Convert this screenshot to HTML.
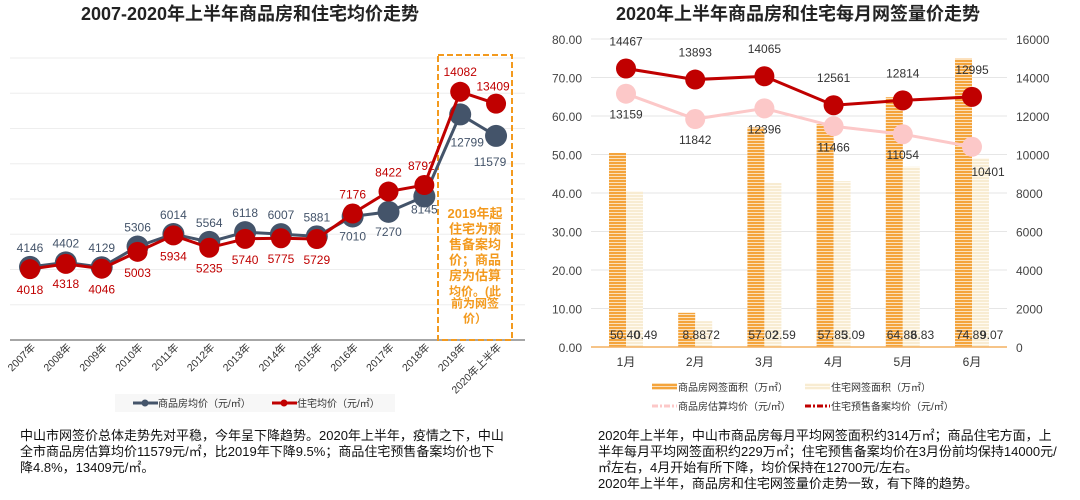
<!DOCTYPE html>
<html><head><meta charset="utf-8">
<style>
body{margin:0;background:#fff;font-family:"Liberation Sans","Noto Sans CJK SC",sans-serif;}
#wrap{position:relative;width:1080px;height:500px;overflow:hidden;background:#fff;}
.txt{position:absolute;font-size:13px;line-height:16px;color:#111;letter-spacing:0px;}
svg text{font-family:"Liberation Sans","Noto Sans CJK SC",sans-serif;}
</style></head>
<body><div id="wrap">
<svg id="svg" width="1080" height="500" style="position:absolute;left:0;top:0">
<defs>
<pattern id="stripeO" width="4" height="3" patternUnits="userSpaceOnUse"><rect width="4" height="3" fill="#fbe1bd"/><rect width="4" height="2" fill="#f4a43c"/></pattern>
<pattern id="stripeL" width="4" height="3" patternUnits="userSpaceOnUse"><rect width="4" height="3" fill="#fffaf0"/><rect width="4" height="2" fill="#f8ecd2"/></pattern>
</defs>
<text x="250" y="20" text-anchor="middle" font-size="18" font-weight="bold" fill="#222">2007-2020年上半年商品房和住宅均价走势</text>
<text x="798" y="20" text-anchor="middle" font-size="18" font-weight="bold" fill="#222">2020年上半年商品房和住宅每月网签量价走势</text>
<g id="left"></g>
<g id="right"></g>
</svg>
<div class="txt" style="left:20px;top:428px;width:484px">中山市网签价总体走势先对平稳，今年呈下降趋势。2020年上半年，疫情之下，中山全市商品房估算均价11579元/㎡，比2019年下降9.5%；商品住宅预售备案均价也下降4.8%，13409元/㎡。</div>
<div class="txt" style="left:598px;top:428px;width:464px">2020年上半年，中山市商品房每月平均网签面积约314万㎡；商品住宅方面，上半年每月平均网签面积约229万㎡；住宅预售备案均价在3月份前均保持14000元/㎡左右，4月开始有所下降，均价保持在12700元/左右。<br>2020年上半年，商品房和住宅网签量价走势一致，有下降的趋势。</div>
</div>
<script>
const years=["2007年","2008年","2009年","2010年","2011年","2012年","2013年","2014年","2015年","2016年","2017年","2018年","2019年","2020年上半年"];
const commPrice=[4146,4402,4129,5306,6014,5564,6118,6007,5881,7010,7270,8145,12799,11579];
const resPrice=[4018,4318,4046,5003,5934,5235,5740,5775,5729,7176,8422,8792,14082,13409];
const months=["1月","2月","3月","4月","5月","6月"];
const commArea=[50.40,8.88,57.02,57.85,64.88,74.89];
const resArea=[40.49,6.72,42.59,43.09,46.83,49.07];
const commEst=[13159,11842,12396,11466,11054,10401];
const resRecord=[14467,13893,14065,12561,12814,12995];
const leftTicks=[0,10,20,30,40,50,60,70,80];
const rightTicks=[0,2000,4000,6000,8000,10000,12000,14000,16000];
const NS="http://www.w3.org/2000/svg";
function mk(p,tag,attrs,txt){const e=document.createElementNS(NS,tag);for(const k in attrs)e.setAttribute(k,attrs[k]);if(txt!==undefined)e.textContent=txt;p.appendChild(e);return e;}
// LEFT CHART
const L=document.getElementById('left');
const lx=i=>30+i*35.85, ly=v=>340-v*(282/16000);
for(let v=2000;v<=16000;v+=2000){const g=mk(L,'line',{x1:10,x2:525,y1:ly(v),y2:ly(v),stroke:'#eeeeee'});}
const ax=mk(L,'line',{x1:10,x2:525,y1:340,y2:340,stroke:'#888','stroke-width':1.5});

const box=mk(L,'rect',{x:438,y:55,width:74,height:285,fill:'none',stroke:'#f39a1e','stroke-width':2,'stroke-dasharray':'6,3'});

const noteLines=["2019年起","住宅为预","售备案均","价；商品","房为估算","均价。(此","前为网签","价）"];
noteLines.forEach((t,i)=>{const e=mk(L,'text',{x:475,y:218+i*15.5+(i>=6?-i*0.6:0),'text-anchor':'middle','font-size':i>=5?12:13,fill:'#f39a1e','font-weight':'bold'},t);});
years.forEach((y,i)=>{const e=mk(L,'text',{x:0,y:0,'font-size':10.5,fill:'#333','text-anchor':'end',transform:`translate(${lx(i)+6},${348}) rotate(-45)`},y);});
function series(parent,xs,ys,vals,color,r,w,name){
 const pts=vals.map((v,i)=>xs(i)+','+ys(v)).join(' ');
 const pl=mk(parent,'polyline',{points:pts,fill:'none',stroke:color,'stroke-width':w});
 
 vals.forEach((v,i)=>{const c=mk(parent,'circle',{cx:xs(i),cy:ys(v),r:r,fill:color});});
}
series(L,lx,ly,commPrice,'#44546a',11,3,'commodity-price');
series(L,lx,ly,resPrice,'#c00000',10,3,'residential-price');
commPrice.forEach((v,i)=>{let above=i<9;let yy=above?ly(v)-15:ly(v)+24;let xx=lx(i);if(i==12){yy=ly(v)+32;xx+=7;}if(i==13){yy=ly(v)+30;xx-=6;}if(i==11){yy=ly(v)+17;}
 const e=mk(L,'text',{x:xx,y:yy,'text-anchor':'middle','font-size':12,fill:'#44546a'},v);});
resPrice.forEach((v,i)=>{let below=i<9;let yy=below?ly(v)+25:ly(v)-15;let xx=lx(i);if(i==1)yy=ly(v)+24;if(i==12)yy=ly(v)-16;if(i==13){yy=ly(v)-13;xx-=3;}if(i==11)xx-=3;
 const e=mk(L,'text',{x:xx,y:yy,'text-anchor':'middle','font-size':12,fill:'#c00000'},v);});
const lg=mk(L,'rect',{x:115,y:394,width:280,height:18,fill:'#f7f7f7'});
mk(L,'line',{x1:133,x2:158,y1:403,y2:403,stroke:'#44546a','stroke-width':3});mk(L,'circle',{cx:145,cy:403,r:3.5,fill:'#44546a'});
let t=mk(L,'text',{x:158,y:407,'font-size':10,fill:'#333'},'商品房均价（元/㎡）');
mk(L,'line',{x1:272,x2:297,y1:403,y2:403,stroke:'#c00000','stroke-width':3});mk(L,'circle',{cx:284,cy:403,r:3.5,fill:'#c00000'});
t=mk(L,'text',{x:297,y:407,'font-size':10,fill:'#333'},'住宅均价（元/㎡）');
// RIGHT CHART
const R=document.getElementById('right');
const rx=i=>626+i*69.2, yl=v=>347-v*(308/80), yr=v=>347-v*(308/16000);
leftTicks.forEach(v=>{if(v>0){const g=mk(R,'line',{x1:591,x2:1007,y1:yl(v),y2:yl(v),stroke:'#e6e6e6'});}
 const e=mk(R,'text',{x:582,y:yl(v)+5,'text-anchor':'end','font-size':12,fill:'#444'},v.toFixed(2));});
rightTicks.forEach(v=>{const e=mk(R,'text',{x:1016,y:yr(v)+5,'font-size':12,fill:'#444'},v);});
months.forEach((m,i)=>{
 const b1=mk(R,'rect',{x:rx(i)-17,y:yl(commArea[i]),width:17,height:347-yl(commArea[i]),fill:'url(#stripeO)'});
 const b2=mk(R,'rect',{x:rx(i),y:yl(resArea[i]),width:17,height:347-yl(resArea[i]),fill:'url(#stripeL)'});
 let e=mk(R,'text',{x:rx(i)-1,y:339,'text-anchor':'middle','font-size':12,fill:'#333'},commArea[i].toFixed(2));
 e=mk(R,'text',{x:rx(i)+8,y:339,'text-anchor':'start','font-size':12,fill:'#333'},resArea[i].toFixed(2).slice(1));
 e=mk(R,'text',{x:rx(i),y:366,'text-anchor':'middle','font-size':12,fill:'#333'},m);
});
const ax2=mk(R,'line',{x1:591,x2:1007,y1:347,y2:347,stroke:'#f4b060','stroke-width':1.5});
series(R,rx,yr,commEst,'#fcc8c8',10,3,'commodity-estimate-price');
series(R,rx,yr,resRecord,'#c00000',10,3,'residential-record-price');
commEst.forEach((v,i)=>{let yy=yr(v)+25,xx=rx(i);if(i==5){xx+=16;yy=yr(v)+29;}const e=mk(R,'text',{x:xx,y:yy,'text-anchor':'middle','font-size':12,fill:'#333'},v);});
resRecord.forEach((v,i)=>{const e=mk(R,'text',{x:rx(i),y:yr(v)-23,'text-anchor':'middle','font-size':12,fill:'#333'},v);});
// right legend
mk(R,'rect',{x:652,y:383,width:25,height:7,fill:'url(#stripeO)'});
t=mk(R,'text',{x:678,y:391,'font-size':10,fill:'#333'},'商品房网签面积（万㎡）');
mk(R,'rect',{x:805,y:383,width:25,height:7,fill:'url(#stripeL)'});
t=mk(R,'text',{x:831,y:391,'font-size':10,fill:'#333'},'住宅网签面积（万㎡）');
mk(R,'line',{x1:652,x2:677,y1:406,y2:406,stroke:'#fcc8c8','stroke-width':3,'stroke-dasharray':'6,2,2,2'});
t=mk(R,'text',{x:678,y:410,'font-size':10,fill:'#333'},'商品房估算均价（元/㎡）');
mk(R,'line',{x1:805,x2:830,y1:406,y2:406,stroke:'#c00000','stroke-width':3,'stroke-dasharray':'6,2,2,2'});
t=mk(R,'text',{x:831,y:410,'font-size':10,fill:'#333'},'住宅预售备案均价（元/㎡）');
</script>
</body></html>
